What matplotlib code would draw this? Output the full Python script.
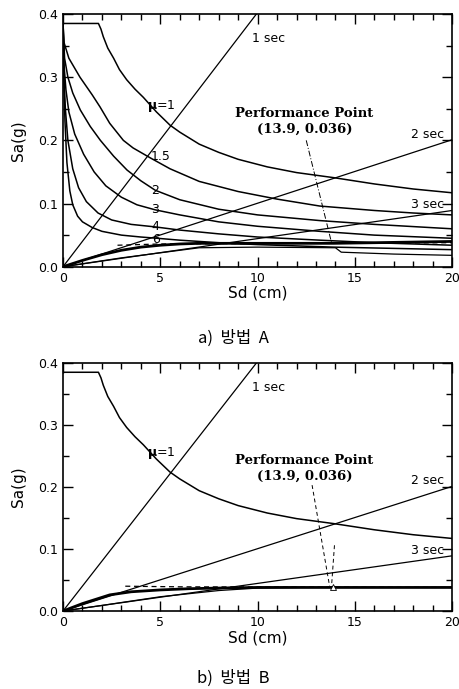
import matplotlib
matplotlib.use("Agg")
import matplotlib.pyplot as plt
from matplotlib.ticker import MultipleLocator

plt.rcParams['font.family'] = ['DejaVu Sans', 'Noto Sans CJK KR']

# ---- data ----
x_ticks = [0, 5, 10, 15, 20]
y_ticks = [0.0, 0.1, 0.2, 0.3, 0.4]
y_tick_labels = ["0.0", "0.1", "0.2", "0.3", "0.4"]

# period lines (end points)
period_names = ["1 sec", "2 sec", "3 sec"]
period_sd = [[0, 9.94], [0, 20], [0, 20]]
period_sa = [[0, 0.40], [0, 0.201], [0, 0.089]]

# demand curves, method A
mu_names = ["1", "1.5", "2", "3", "4", "6"]
sd_mu1 = [0, 1.82, 1.95, 2.07, 2.3, 2.6, 2.9, 3.27, 3.7, 4.13, 4.8, 5.5, 6.0, 7.0, 8.0, 9.0, 10.5, 12.0, 13.9, 16.0, 18.0, 20.0]
sa_mu1 = [0.385, 0.385, 0.376, 0.364, 0.346, 0.33, 0.312, 0.296, 0.281, 0.268, 0.245, 0.224, 0.213, 0.194, 0.181, 0.170, 0.158, 0.149, 0.141, 0.131, 0.123, 0.117]
sd_mu15 = [0, 0.05, 0.3, 0.87, 1.5, 1.9, 2.4, 3.1, 3.6, 4.5, 5.5, 7, 9, 11, 13.2, 16, 18, 20]
sa_mu15 = [0.385, 0.355, 0.33, 0.30, 0.272, 0.253, 0.227, 0.200, 0.188, 0.172, 0.155, 0.135, 0.119, 0.107, 0.096, 0.089, 0.085, 0.082]
sd_mu2 = [0, 0.08, 0.25, 0.5, 0.89, 1.4, 1.92, 2.6, 3.29, 4.0, 4.74, 6.0, 8.0, 10.0, 13.2, 16.0, 20.0]
sa_mu2 = [0.385, 0.33, 0.30, 0.275, 0.248, 0.222, 0.200, 0.175, 0.153, 0.136, 0.121, 0.106, 0.091, 0.082, 0.073, 0.067, 0.060]
sd_mu3 = [0, 0.05, 0.15, 0.3, 0.6, 1.06, 1.6, 2.2, 3.0, 3.8, 4.74, 6.0, 8.0, 10.0, 13.2, 16.0, 20.0]
sa_mu3 = [0.385, 0.32, 0.28, 0.245, 0.21, 0.178, 0.150, 0.128, 0.110, 0.098, 0.090, 0.082, 0.071, 0.064, 0.056, 0.050, 0.045]
sd_mu4 = [0, 0.05, 0.12, 0.25, 0.5, 0.8, 1.2, 1.8, 2.5, 3.5, 4.74, 6.0, 8.0, 10.0, 13.2, 16.0, 20.0]
sa_mu4 = [0.385, 0.30, 0.25, 0.20, 0.155, 0.125, 0.103, 0.085, 0.074, 0.067, 0.063, 0.058, 0.052, 0.047, 0.042, 0.038, 0.034]
sd_mu6 = [0, 0.04, 0.1, 0.2, 0.35, 0.5, 0.75, 1.0, 1.5, 2.0, 3.0, 4.0, 4.85, 6.0, 8.0, 10.0, 13.9, 17.0, 20.0]
sa_mu6 = [0.385, 0.30, 0.23, 0.165, 0.120, 0.098, 0.080, 0.071, 0.062, 0.056, 0.050, 0.047, 0.045, 0.042, 0.038, 0.035, 0.031, 0.029, 0.027]

# capacity curves
sd_cap_a = [0, 1, 2, 3, 4, 5, 6, 7, 8, 10, 12, 13.9, 16, 18, 20]
sa_cap_a = [0, 0.010, 0.019, 0.026, 0.031, 0.034, 0.036, 0.037, 0.037, 0.037, 0.037, 0.037, 0.038, 0.039, 0.040]
sd_bil_a = [2.8, 5.0, 20]
sa_bil_a = [0.034, 0.036, 0.038]
sd_low_a = [0, 3, 7, 10, 14.0, 14.3, 17, 20]
sa_low_a = [0, 0.014, 0.030, 0.031, 0.030, 0.023, 0.020, 0.018]

sd_cap_b = [0, 1, 2.4, 3.5, 5, 6.5, 8, 10, 12, 13.9, 16, 18, 20]
sa_cap_b = [0, 0.012, 0.026, 0.031, 0.034, 0.036, 0.037, 0.038, 0.038, 0.038, 0.038, 0.038, 0.038]
sd_bil_b = [3.2, 6.0, 20]
sa_bil_b = [0.040, 0.039, 0.038]
sd_low_b = [0, 2, 5, 8, 10, 12]
sa_low_b = [0, 0.009, 0.023, 0.033, 0.037, 0.038]

# performance point
pp_sd, pp_sa = 13.9, 0.036
pp_text = "Performance Point\n(13.9, 0.036)"
pp_leader_a = ([12.5, 13.8], [0.200, 0.038])
pp_leader_b1 = ([12.8, 13.7], [0.203, 0.040])
pp_leader_b2 = ([13.95, 13.8], [0.106, 0.040])

fig = plt.figure(figsize=(4.6, 6.89), dpi=100)
ax_a = fig.add_axes([0.137, 0.6129, 0.846, 0.3668])
ax_b = fig.add_axes([0.137, 0.1132, 0.846, 0.3600])


def style_axes(ax):
    ax.set_xlim(0, 20)
    ax.set_ylim(0, 0.4)
    ax.set_xticks(x_ticks)
    ax.set_yticks(y_ticks)
    ax.set_yticklabels(y_tick_labels)
    ax.xaxis.set_minor_locator(MultipleLocator(1))
    ax.yaxis.set_minor_locator(MultipleLocator(0.05))
    ax.tick_params(which="both", direction="in", top=True, right=True,
                   labelsize=9, width=1.0)
    ax.tick_params(which="major", length=7)
    ax.tick_params(which="minor", length=4)
    for sp in ax.spines.values():
        sp.set_linewidth(1.2)
    ax.set_xlabel("Sd (cm)", fontsize=11, labelpad=1)
    ax.set_ylabel("Sa(g)", fontsize=11, labelpad=9)


def draw_common(ax):
    for sd, sa in zip(period_sd, period_sa):
        ax.plot(sd, sa, color="black", lw=0.9)
    ax.plot(sd_mu1, sa_mu1, color="black", lw=1.1)
    ax.text(9.7, 0.361, period_names[0], fontsize=9, va="center")
    ax.text(17.9, 0.210, period_names[1], fontsize=9, va="center")
    ax.text(17.9, 0.098, period_names[2], fontsize=9, va="center")
    ax.text(4.3, 0.255, r"$\mathbf{\mu}$=1", fontsize=9, va="center")
    ax.text(12.4, 0.230, pp_text, fontsize=9.5, fontweight="bold",
            family="DejaVu Serif", ha="center", va="center",
            linespacing=1.3)


# ---- a) 방법 A ----
style_axes(ax_a)
draw_common(ax_a)
for sd, sa in [(sd_mu15, sa_mu15), (sd_mu2, sa_mu2), (sd_mu3, sa_mu3),
               (sd_mu4, sa_mu4), (sd_mu6, sa_mu6)]:
    ax_a.plot(sd, sa, color="black", lw=1.1)
ax_a.plot(sd_cap_a, sa_cap_a, color="black", lw=2.0)
ax_a.plot(sd_bil_a, sa_bil_a, color="black", lw=0.9, ls=(0, (4, 3)))
ax_a.plot(sd_low_a, sa_low_a, color="black", lw=0.9)
ax_a.plot(*pp_leader_a, color="black", lw=0.7, ls=(0, (6, 2, 1, 2)))
label_pos = [(4.5, 0.174), (4.55, 0.121), (4.55, 0.090), (4.55, 0.063), (4.6, 0.043)]
for name, (x, y) in zip(mu_names[1:], label_pos):
    ax_a.text(x, y, name, fontsize=9, va="center")

# ---- b) 방법 B ----
style_axes(ax_b)
draw_common(ax_b)
ax_b.plot(sd_cap_b, sa_cap_b, color="black", lw=2.0)
ax_b.plot(sd_bil_b, sa_bil_b, color="black", lw=0.9, ls=(0, (4, 3)))
ax_b.plot(sd_low_b, sa_low_b, color="black", lw=0.9)
ax_b.plot(*pp_leader_b1, color="black", lw=0.7, ls=(0, (4, 3)))
ax_b.plot(*pp_leader_b2, color="black", lw=0.7, ls=(0, (4, 3)))
ax_b.plot([pp_sd], [pp_sa + 0.003], marker="^", ms=4, mfc="white",
          mec="black", mew=0.6)

fig.text(0.507, 0.509, "a)  방법  A", fontsize=12, ha="center", va="center",
         family=["Noto Sans CJK KR", "DejaVu Sans"])
fig.text(0.507, 0.016, "b)  방법  B", fontsize=12, ha="center", va="center",
         family=["Noto Sans CJK KR", "DejaVu Sans"])

fig.savefig("out.png", dpi=100)
